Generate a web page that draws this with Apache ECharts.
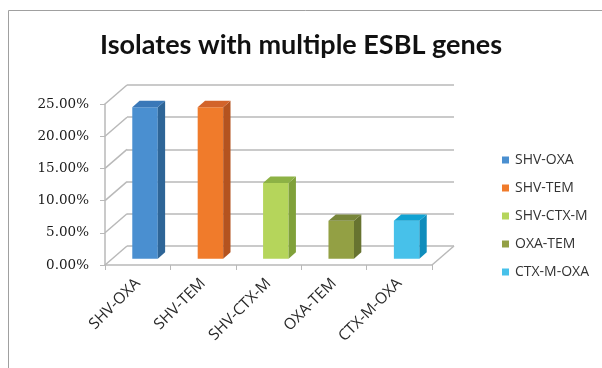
<!DOCTYPE html>
<html><head><meta charset="utf-8">
<script src="https://cdn.jsdelivr.net/npm/echarts@6/dist/echarts.min.js"></script>
<style>html,body{margin:0;padding:0;background:#fff}#c{width:602px;height:368px}</style>
</head><body><div id="c"></div>
<script>
const categories = ['SHV-OXA', 'SHV-TEM', 'SHV-CTX-M', 'OXA-TEM', 'CTX-M-OXA'];
const values = [23.53, 23.53, 11.76, 5.88, 5.88];
const yTicks = [0, 5, 10, 15, 20, 25];

const palette = [
  { front: '#4a8fd0', side: '#2e6597', top: '#3a78b8' },
  { front: '#f07b2b', side: '#b4531f', top: '#d2632a' },
  { front: '#b5d55b', side: '#80a13a', top: '#8db245' },
  { front: '#93a044', side: '#677330', top: '#78863a' },
  { front: '#47c1ea', side: '#0f8dbc', top: '#11a2d2' }
];
const DX = 22, DY = -19;
const gridCol = '#b9b9b9';

const chart = echarts.init(document.getElementById('c'), null, { renderer: 'canvas' });

const barSeries = categories.map((name, i) => ({
  type: 'custom', name, xAxisIndex: 0, yAxisIndex: 0, z: 5,
  data: [[i, values[i]]], encode: { x: 0, y: 1 },
  itemStyle: { color: palette[i].front },
  renderItem: (params, api) => {
    const c = api.value(0), v = api.value(1);
    const t = api.coord([c, v]), b = api.coord([c, 0]);
    const w = api.size([1, 0])[0] * 0.39;
    const dx = DX / 3, dy = DY / 3;
    const x0 = t[0] - w / 2 + dx, x1 = x0 + w, yt = t[1] + dy, yb = b[1] + dy;
    const p = palette[i];
    return { type: 'group', children: [
      { type: 'rect', shape: { x: x0, y: yt, width: w, height: yb - yt }, style: { fill: p.front } },
      { type: 'polygon', shape: { points: [[x1, yt], [x1 + dx, yt + dy], [x1 + dx, yb + dy], [x1, yb]] }, style: { fill: p.side } },
      { type: 'polygon', shape: { points: [[x0, yt], [x1, yt], [x1 + dx, yt + dy], [x0 + dx, yt + dy]] }, style: { fill: p.top } }
    ] };
  }
}));

const wallSeries = {
  type: 'custom', name: 'walls', xAxisIndex: 0, yAxisIndex: 0, silent: true, z: 1,
  data: yTicks.map(v => [0, v]), encode: { x: 0, y: 1 },
  renderItem: (params, api) => {
    const v = api.value(1);
    const p = api.coord([0, v]);
    const cs = params.coordSys;
    const children = [{ type: 'line', shape: { x1: cs.x, y1: p[1], x2: cs.x + DX, y2: p[1] + DY }, style: { stroke: gridCol, lineWidth: 1.5 } }];
    if (v === 0) {
      children.push({ type: 'line', shape: { x1: cs.x + cs.width, y1: p[1], x2: cs.x + cs.width + DX, y2: p[1] + DY }, style: { stroke: gridCol, lineWidth: 1.5 } });
    }
    return { type: 'group', children };
  }
};

const option = {
  animation: false,
  backgroundColor: '#fff',
  title: {
    text: 'Isolates with multiple ESBL genes', left: 'center', top: 27,
    textStyle: { fontFamily: 'Lato', fontWeight: 'bold', fontSize: 27, color: '#111' }
  },
  graphic: [{ type: 'rect', shape: { x: 8.5, y: 10.5, width: 800, height: 600 }, style: { fill: 'none', stroke: '#a0a0a0', lineWidth: 1 }, silent: true }],
  legend: {
    data: categories, orient: 'vertical', left: 497, top: 148, itemWidth: 7, itemHeight: 7, itemGap: 14,
    icon: 'rect', textStyle: { fontFamily: 'Open Sans', fontSize: 14, color: '#333', padding: [0, 0, 0, 1] }
  },
  grid: [
    { left: 105, right: 170, top: 104, bottom: 103 },
    { left: 105 + DX, right: 170 - DX, top: 104 + DY, bottom: 103 - DY }
  ],
  xAxis: [
    { gridIndex: 0, type: 'category', data: categories, boundaryGap: true,
      axisLine: { show: true, lineStyle: { color: gridCol, width: 1.5 } },
      axisTick: { show: true, length: 5, lineStyle: { color: gridCol } },
      axisLabel: { rotate: 45, margin: 16, fontFamily: 'Open Sans', fontSize: 15.5, color: '#2a2a2a' } },
    { gridIndex: 1, type: 'category', data: categories, show: false }
  ],
  yAxis: [
    { gridIndex: 0, type: 'value', min: 0, max: 25, interval: 5,
      axisLine: { show: true, lineStyle: { color: gridCol, width: 1.5 } },
      axisTick: { show: true, length: 5, lineStyle: { color: gridCol } },
      splitLine: { show: false },
      axisLabel: { margin: 16, fontFamily: 'DejaVu Serif', fontSize: 13.5, color: '#1a1a1a', formatter: v => v.toFixed(2) + '%' } },
    { gridIndex: 1, type: 'value', min: 0, max: 25, interval: 5,
      axisLine: { show: false }, axisTick: { show: false }, axisLabel: { show: false },
      splitLine: { show: true, lineStyle: { color: gridCol, width: 1.5 } } }
  ],
  series: [wallSeries, ...barSeries]
};
chart.setOption(option);
</script></body></html>
